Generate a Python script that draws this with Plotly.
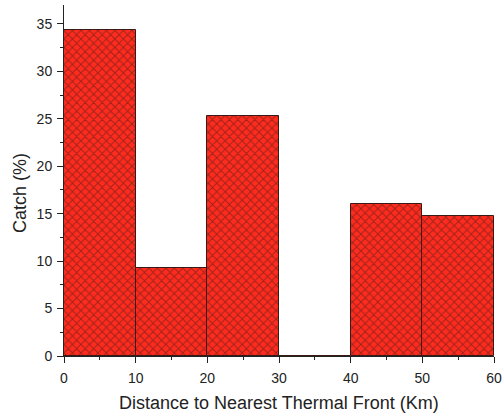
import plotly.graph_objects as go

bin_centers = [5, 15, 25, 35, 45, 55]
catch_pct = [34.4, 9.3, 25.3, 0, 16.0, 14.8]
x_ticks = [0, 10, 20, 30, 40, 50, 60]
y_ticks = [0, 5, 10, 15, 20, 25, 30, 35]
x_title = "Distance to Nearest Thermal Front (Km)"
y_title = "Catch (%)"

fig = go.Figure(go.Bar(
    x=bin_centers, y=catch_pct, width=10,
    marker=dict(
        color="#ff2b1f",
        line=dict(color="#3a1a14", width=1),
        pattern=dict(shape="x", fgcolor="#6a2018", bgcolor="#ff2b1f",
                     size=6, solidity=0.3, fgopacity=0.65),
    ),
))

fnt = dict(family="Liberation Sans, Arial, sans-serif", color="#222", size=14)
fig.update_layout(
    width=503, height=415,
    margin=dict(l=64, r=9, t=5, b=59),
    paper_bgcolor="white", plot_bgcolor="white",
    showlegend=False, bargap=0,
    font=fnt,
)
fig.update_xaxes(
    range=[0, 60], tickvals=x_ticks, ticks="outside", ticklen=6, tickwidth=1,
    tickcolor="#222", showline=True, linecolor="#222", linewidth=1,
    showgrid=False, zeroline=False, automargin=False, ticklabelstandoff=3,
    minor=dict(dtick=5, tick0=0, ticks="outside", ticklen=3, tickcolor="#222"),
)
fig.update_yaxes(
    range=[0, 37], tickvals=y_ticks, ticks="outside", ticklen=6, tickwidth=1,
    tickcolor="#222", showline=True, linecolor="#222", linewidth=1,
    showgrid=False, zeroline=False, automargin=False, ticklabelstandoff=2,
    minor=dict(dtick=2.5, tick0=0, ticks="outside", ticklen=3, tickcolor="#222"),
)
fig.add_annotation(text=x_title, xref="paper", yref="paper", x=0.5, y=-0.134,
                   showarrow=False, xanchor="center", yanchor="middle",
                   font=dict(size=18))
fig.add_annotation(text=y_title, xref="paper", yref="paper", x=-0.102, y=0.465,
                   showarrow=False, xanchor="center", yanchor="middle",
                   textangle=-90, font=dict(size=18))
fig.write_html("out.html", post_script="document.body.style.margin='0';",
               config={"displayModeBar": False})
